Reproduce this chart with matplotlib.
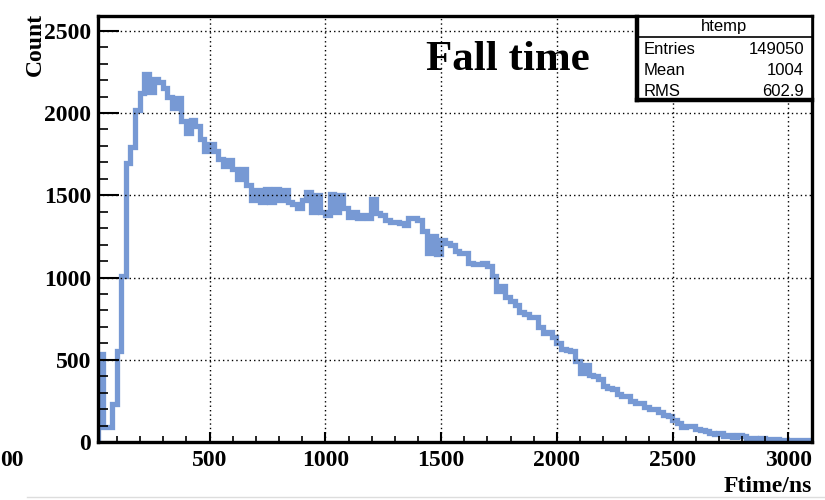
import numpy as np
import matplotlib
matplotlib.use("Agg")
import matplotlib.pyplot as plt
from matplotlib.ticker import MultipleLocator
from matplotlib.lines import Line2D

# Fall time histogram, 20 ns bins starting at 18 ns
bin_start = 18
bin_width = 20
counts = [
    535, 90, 90, 232, 555, 1008, 1694, 1791, 2021, 2124,
    2238, 2130, 2210, 2190, 2150, 2100, 2030, 2090, 1950, 1880,
    1960, 1920, 1840, 1770, 1810, 1770, 1720, 1680, 1715, 1660,
    1600, 1660, 1560, 1470, 1530, 1460, 1540, 1460, 1540, 1470,
    1530, 1460, 1450, 1420, 1470, 1520, 1400, 1500, 1400, 1380,
    1510, 1400, 1500, 1420, 1370, 1400, 1360, 1380, 1360, 1480,
    1390, 1380, 1350, 1340, 1340, 1330, 1320, 1360, 1360, 1350,
    1280, 1150, 1250, 1140, 1230, 1210, 1200, 1160, 1150, 1150,
    1090, 1080, 1080, 1090, 1070, 1010, 920, 950, 880, 860,
    830, 790, 780, 760, 760, 700, 660, 670, 640, 600,
    565, 560, 555, 490, 420, 470, 410, 400, 380, 340,
    330, 320, 290, 280, 280, 250, 240, 240, 210, 200,
    200, 180, 165, 160, 135, 115, 90, 100, 95, 80,
    75, 65, 55, 50, 55, 35, 45, 30, 40, 35,
    25, 25, 20, 25, 20, 20, 20, 15, 15, 15,
    10, 12, 10, 10,
]
edges = bin_start + bin_width * np.arange(len(counts) + 1)

x_range = (18, 3102)
y_range = (0, 2590)
x_major = [500, 1000, 1500, 2000, 2500, 3000]
y_major = [0, 500, 1000, 1500, 2000, 2500]

title = "Fall time"
x_title = "Ftime/ns"
y_title = "Count"
stats_name = "htemp"
stats_rows = [("Entries", "149050"), ("Mean", "1004"), ("RMS", "602.9")]

W, H = 825, 500
serif = ["Liberation Serif", "DejaVu Serif"]
sans = ["Liberation Sans", "DejaVu Sans"]


def fx(px):
    return px / W


def fy(py):
    return 1 - py / H


fig = plt.figure(figsize=(W / 100, H / 100), dpi=100)
ax = fig.add_axes([fx(98), fy(442), fx(812) - fx(98), fy(16) - fy(442)])

step = ax.stairs(counts, edges, color="#7799d4", linewidth=3.8)
step.set_joinstyle("miter")

ax.set_xlim(*x_range)
ax.set_ylim(*y_range)
ax.set_xticks(x_major)
ax.set_yticks(y_major)
ax.xaxis.set_minor_locator(MultipleLocator(100))
ax.yaxis.set_minor_locator(MultipleLocator(100))

ax.grid(True, which="major", color="black", linestyle=(0, (1, 2.2)), linewidth=1.0)
ax.tick_params(axis="x", which="major", direction="in", length=7, width=1.5, pad=6)
ax.tick_params(axis="x", which="minor", direction="in", length=4, width=1.2)
ax.tick_params(axis="y", which="major", direction="in", length=15, width=1.5, pad=5)
ax.tick_params(axis="y", which="minor", direction="in", length=7.5, width=1.2)
for lab in ax.get_xticklabels() + ax.get_yticklabels():
    lab.set_family(serif)
    lab.set_fontweight("bold")
    lab.set_fontsize(17)
for sp in ax.spines.values():
    sp.set_linewidth(2.4)

# axis titles, ROOT style at the ends of the axes
fig.text(fx(812), fy(486), x_title, ha="right", va="center",
         family=serif, weight="bold", fontsize=17)
fig.text(fx(35), fy(13), y_title, ha="center", va="top", rotation=90,
         family=serif, weight="bold", fontsize=17)
fig.text(fx(0), fy(460), "00", ha="left", va="center",
         family=serif, weight="bold", fontsize=17)

fig.text(fx(508), fy(60), title, ha="center", va="center",
         family=serif, weight="bold", fontsize=31)

# statistics box
bx0, bx1, by0, by1, bsep = fx(637), fx(812), fy(17), fy(100), fy(37)
fig.patches.append(plt.Rectangle((bx0, by1), bx1 - bx0, by0 - by1,
                                 transform=fig.transFigure, facecolor="white",
                                 edgecolor="black", linewidth=1.2, zorder=5))
fig.lines.append(Line2D([bx0, bx1], [bsep, bsep], transform=fig.transFigure,
                        color="black", linewidth=1.2, zorder=6))
fig.lines.append(Line2D([bx0, bx0], [by0, by1], transform=fig.transFigure,
                        color="black", linewidth=3.2, zorder=6))
fig.lines.append(Line2D([bx0, bx1], [by1, by1], transform=fig.transFigure,
                        color="black", linewidth=3.2, zorder=6))
fig.text((bx0 + bx1) / 2, fy(27), stats_name, ha="center", va="center",
         family=sans, fontsize=12, zorder=7)
for i, (name, val) in enumerate(stats_rows):
    yy = fy(49 + i * 21.5)
    fig.text(fx(644), yy, name, ha="left", va="center",
             family=sans, fontsize=12, zorder=7)
    fig.text(fx(804), yy, val, ha="right", va="center",
             family=sans, fontsize=12, zorder=7)

fig.lines.append(Line2D([fx(27), 1], [fy(497), fy(497)], transform=fig.transFigure,
                        color="#dddddd", linewidth=1.0))

fig.savefig("out.png", dpi=100, facecolor="white")
